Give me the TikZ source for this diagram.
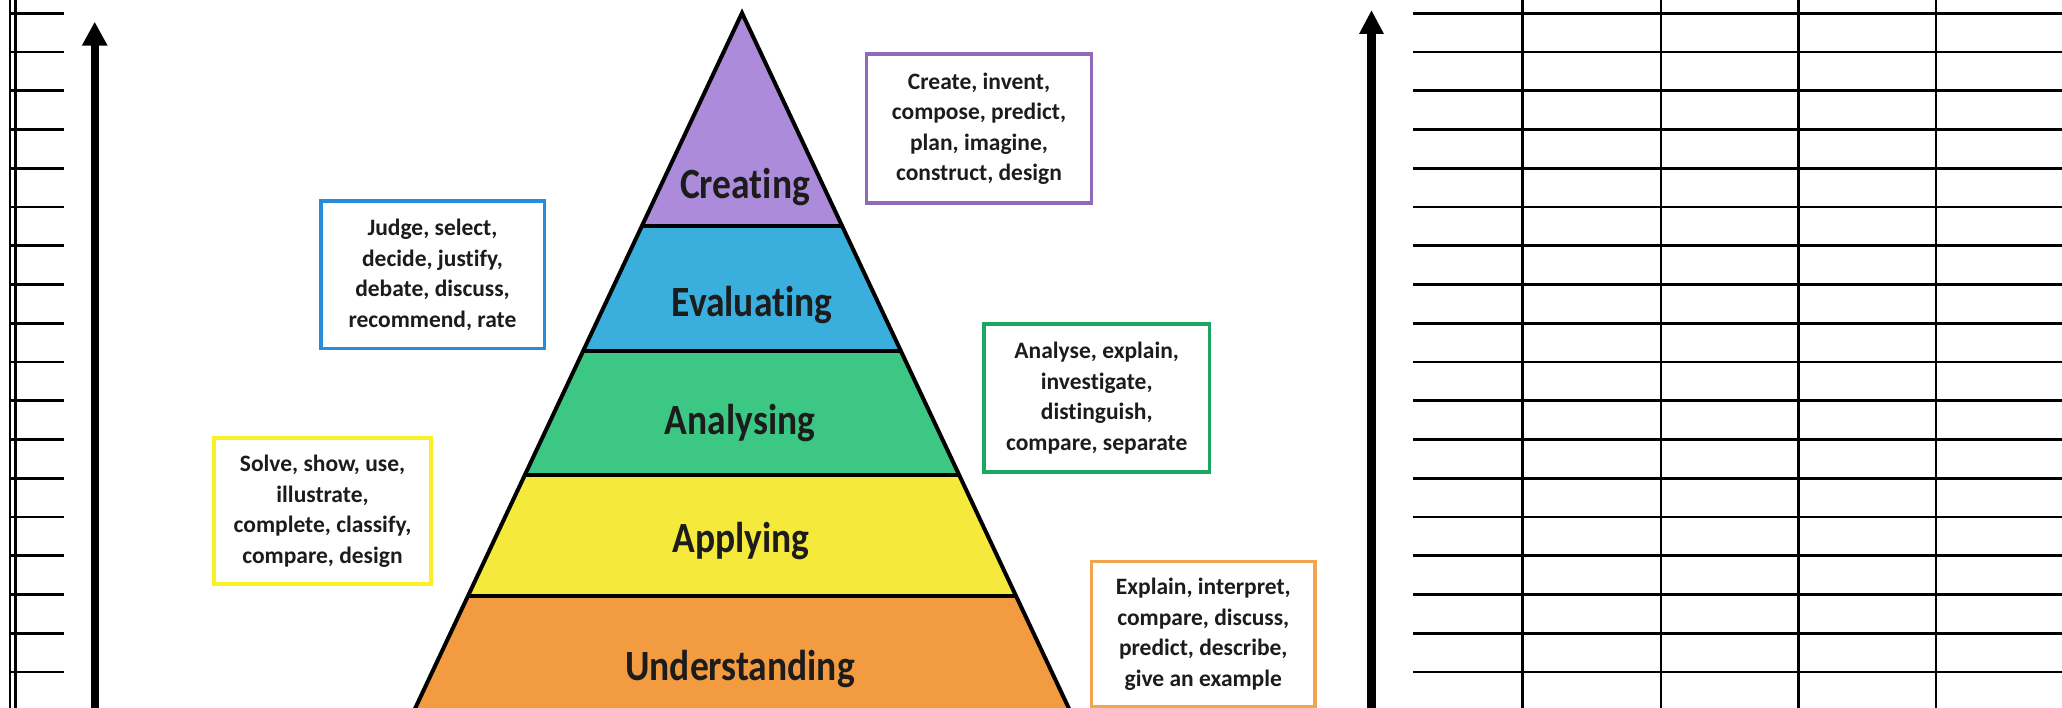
\documentclass[tikz,border=0pt]{standalone}
\usepackage{fontspec}
\setmainfont{Carlito}[Ligatures={NoCommon}]
\usepackage{graphicx}
\usetikzlibrary{arrows.meta}
\definecolor{fCreate}{RGB}{172,140,218}
\definecolor{fEval}{RGB}{58,174,220}
\definecolor{fAnal}{RGB}{60,200,132}
\definecolor{fApply}{RGB}{245,233,60}
\definecolor{fUnder}{RGB}{242,155,64}
\definecolor{bPurple}{RGB}{145,105,185}
\definecolor{bBlue}{RGB}{40,140,220}
\definecolor{bGreen}{RGB}{30,165,100}
\definecolor{bYellow}{RGB}{250,240,40}
\definecolor{bOrange}{RGB}{240,165,80}
\definecolor{ink}{RGB}{28,28,28}
\begin{document}
\begin{tikzpicture}[x=1pt,y=-1pt,
  rule/.style={line width=2.8pt, black},
  outline/.style={line width=4pt, black, line join=miter},
  layerlbl/.style={font=\bfseries\fontsize{37.5}{40}\selectfont, text=ink, inner sep=0pt, anchor=base},
  vbox/.style={line width=3.5pt, fill=white, align=center, inner sep=0pt, text=ink,
    font=\bfseries\fontsize{23.5}{30.5}\selectfont}]
\useasboundingbox (0,0) rectangle (2062,708);
\clip (0,0) rectangle (2062,708);
\fill[white] (0,0) rectangle (2062,708);

% left ruler
\draw[rule] (10,0) -- (10,708);
\draw[rule] (15.3,0) -- (15.3,708);
\foreach \i in {0,...,17} \draw[rule] (10,{13.3+38.75*\i}) -- (64,{13.3+38.75*\i});

% left arrow
\coordinate (la0) at (94.7,712);
\coordinate (la1) at (94.7,21.7);
\draw[line width=8pt, -{Triangle[width=24pt,length=24pt]}] (la0) -- (la1);

% right grid
\foreach \i in {0,...,17} \draw[rule] (1413,{13.3+38.75*\i}) -- (2062,{13.3+38.75*\i});
\foreach \x in {1522.7,1661,1798.5,1936} \draw[line width=2.6pt] (\x,0) -- (\x,708);

% right arrow
\coordinate (ra0) at (1371.5,712);
\coordinate (ra1) at (1371.5,10);
\draw[line width=9pt, -{Triangle[width=23pt,length=24pt]}] (ra0) -- (ra1);

% pyramid
\coordinate (apex) at (742,13);
\coordinate (bl) at (390.4,761);
\coordinate (br) at (1093.6,761);
\begin{scope}
  \clip (apex) -- (br) -- (bl) -- cycle;
  \fill[fCreate] (380,0) rectangle (1110,226);
  \fill[fEval] (380,226) rectangle (1110,351);
  \fill[fAnal] (380,351) rectangle (1110,475);
  \fill[fApply] (380,475) rectangle (1110,596);
  \fill[fUnder] (380,596) rectangle (1110,770);
  \foreach \y in {226,351,475,596} \draw[line width=4pt] (380,\y) -- (1110,\y);
\end{scope}
\draw[outline] (apex) -- (br) -- (bl) -- cycle;

\node[layerlbl] (creating) at (745,199) {\scalebox{1}[1.15]{Creating}};
\node[layerlbl] (evaluating) at (752,317) {\scalebox{1}[1.15]{Evaluating}};
\node[layerlbl] (analysing) at (740,435) {\scalebox{1}[1.15]{Analysing}};
\node[layerlbl] (applying) at (741,552) {\scalebox{1}[1.15]{Applying}};
\node[layerlbl] (understanding) at (740,680) {\scalebox{1}[1.15]{Understanding}};

% verb boxes
\node[vbox, draw=bPurple, minimum width=225pt, minimum height=149pt] (createbox) at (979,128.5)
  {Create, invent,\\compose, predict,\\plan, imagine,\\construct, design};
\node[vbox, draw=bBlue, minimum width=223.5pt, minimum height=147.5pt] (evalbox) at (432.5,275)
  {Judge, select,\\decide, justify,\\debate, discuss,\\recommend, rate};
\node[vbox, draw=bGreen, minimum width=225.5pt, minimum height=148pt] (analbox) at (1096.7,398)
  {Analyse, explain,\\investigate,\\distinguish,\\compare, separate};
\node[vbox, draw=bYellow, minimum width=217pt, minimum height=146pt] (applybox) at (322.5,511)
  {Solve, show, use,\\illustrate,\\complete, classify,\\compare, design};
\node[vbox, draw=bOrange, minimum width=223.5pt, minimum height=145pt] (underbox) at (1203.3,634)
  {Explain, interpret,\\compare, discuss,\\predict, describe,\\give an example};
\end{tikzpicture}
\end{document}
